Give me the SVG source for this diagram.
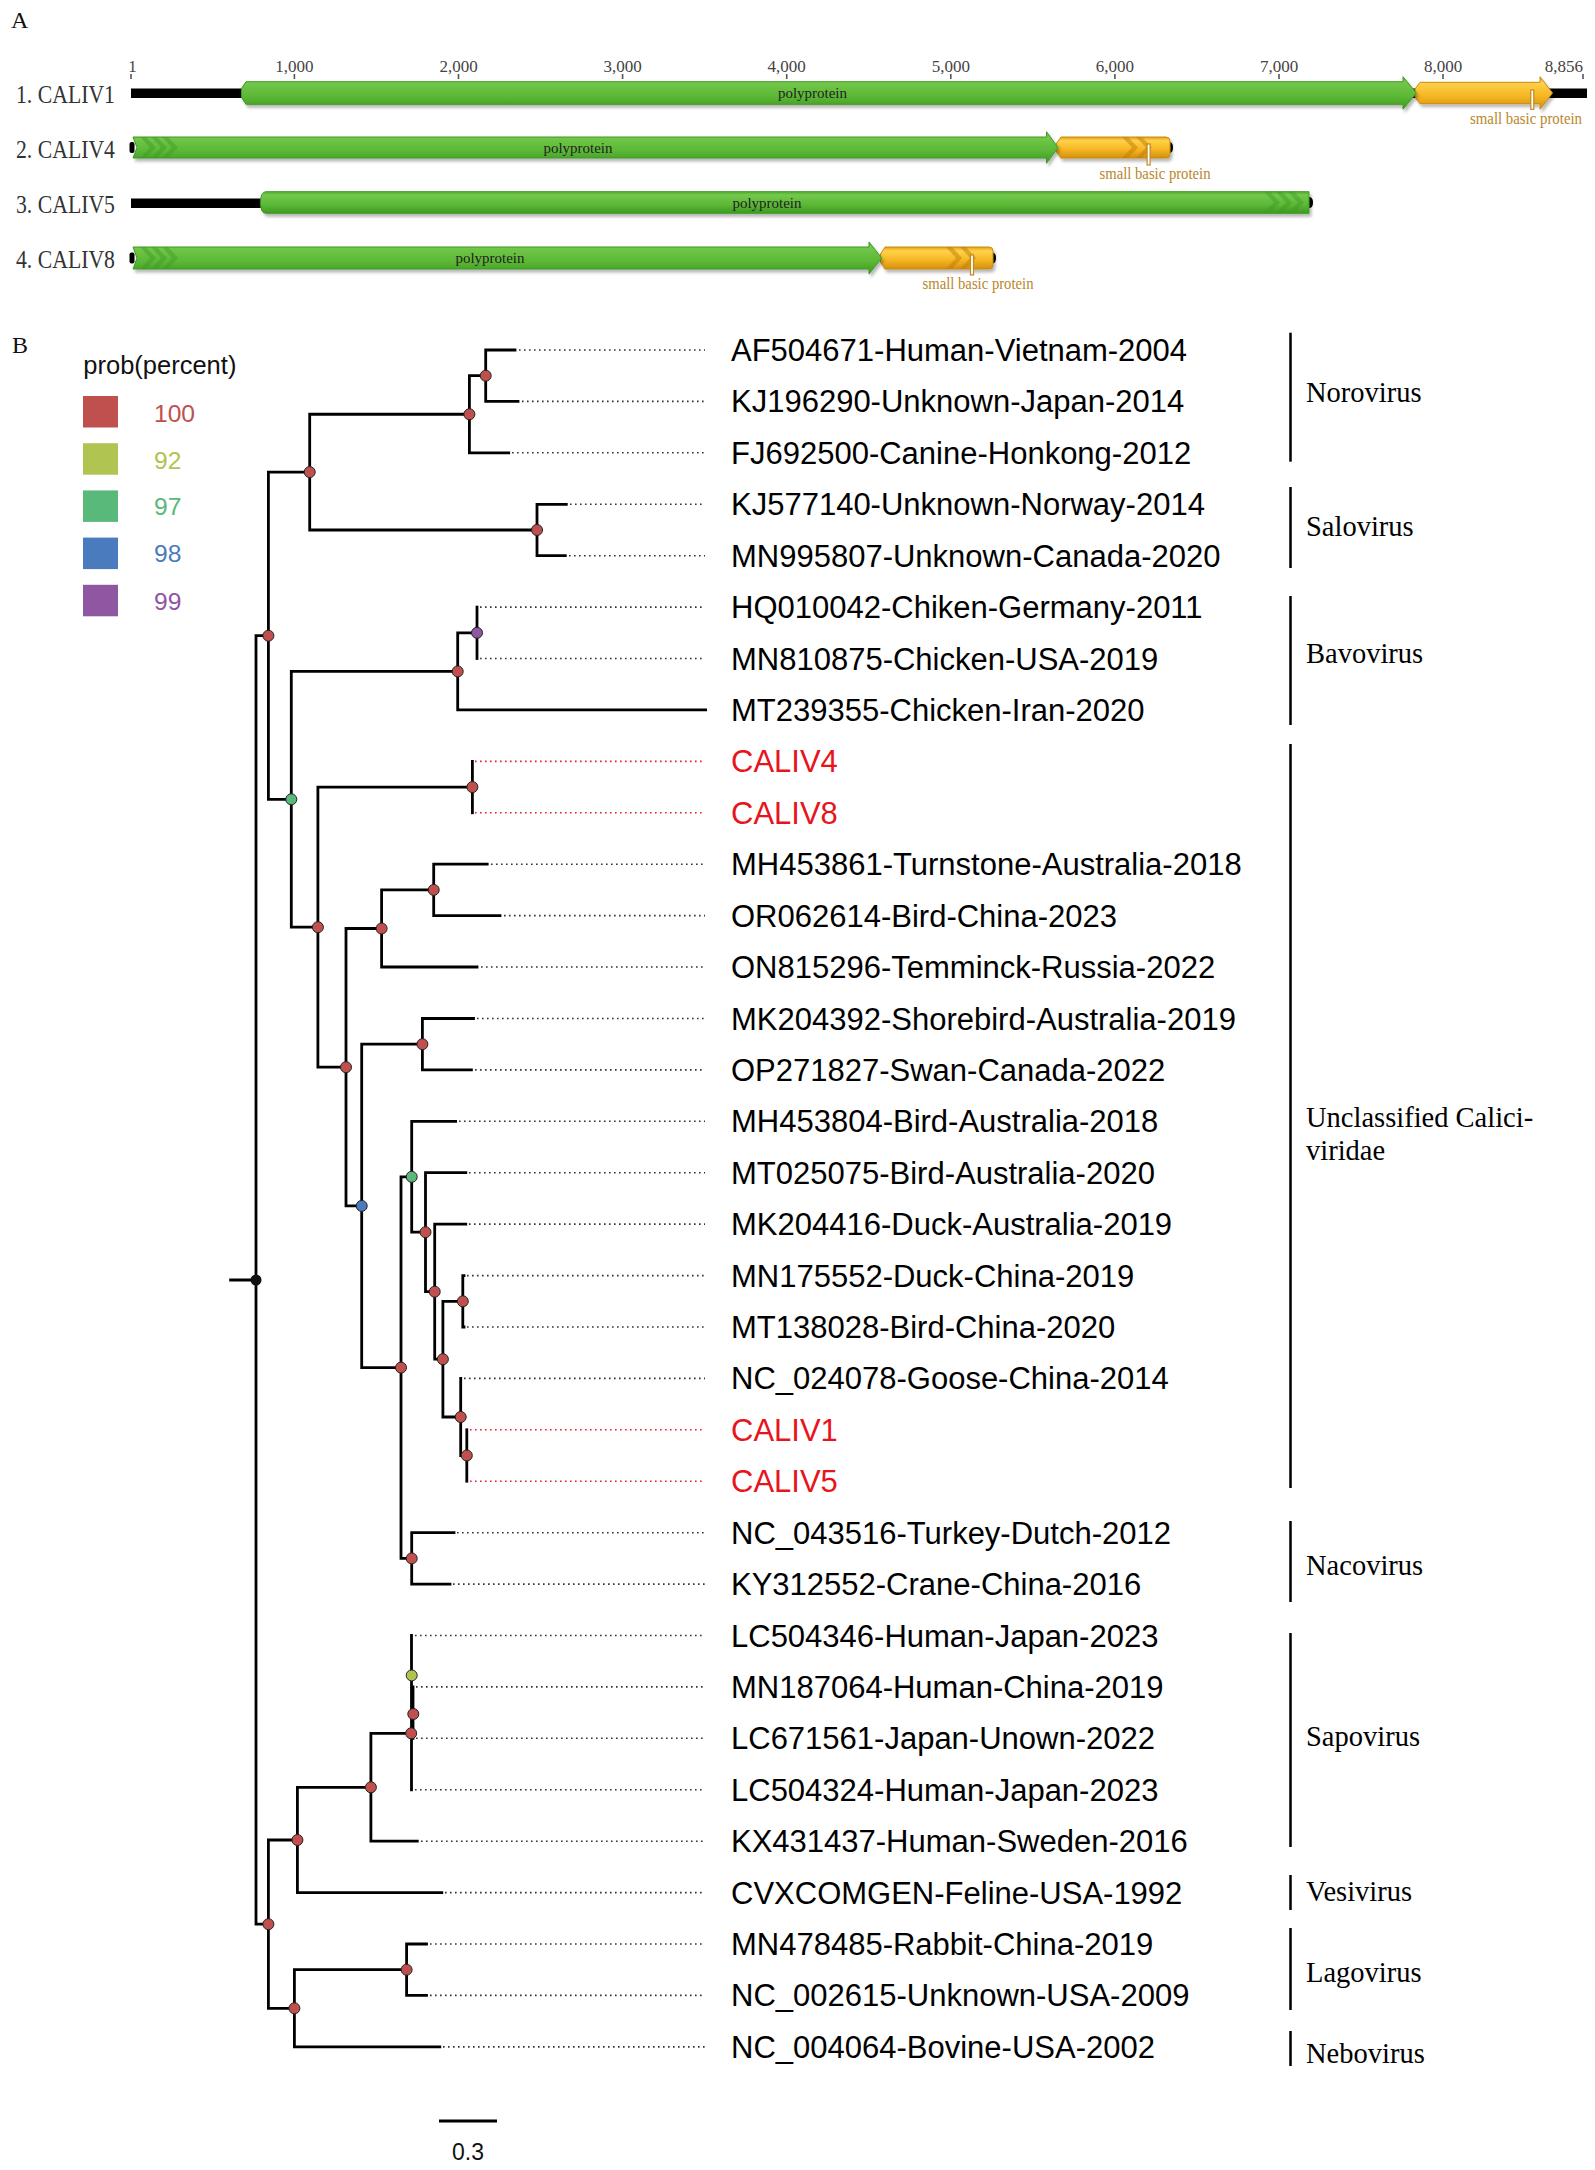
<svg xmlns="http://www.w3.org/2000/svg" width="1595" height="2170" viewBox="0 0 1595 2170">
<style>
.pl{font-family:"Liberation Serif","Times New Roman",serif;font-size:24px;fill:#111}
.tl{font-family:"Liberation Serif","Times New Roman",serif;font-size:17px;fill:#444;text-anchor:middle}
.tick{stroke:#555;stroke-width:1.6}
.rowlab{font-family:"Liberation Serif","Times New Roman",serif;font-size:25px;fill:#333}
.pp{font-family:"Liberation Serif","Times New Roman",serif;font-size:15px;fill:#222;text-anchor:middle}
.sbp{font-family:"Liberation Serif","Times New Roman",serif;font-size:16px;fill:#b8862b;text-anchor:middle}
.gr{fill:url(#gG);stroke:#3d9a22;stroke-width:1;filter:url(#sh)}
.or{fill:url(#gO);stroke:#c98a12;stroke-width:1;filter:url(#sh)}
.chg{fill:#3f9c25;opacity:0.45}
.cho{fill:#c47a08;opacity:0.5}
.mk{fill:#fff;stroke:#c08a20;stroke-width:1.2}
.seq{fill:#000}
.br{stroke:#000;stroke-width:2.8;fill:none;stroke-linecap:square}
.dt{stroke:#333;stroke-width:1.6;stroke-dasharray:1.6 3.4;fill:none}
.dtr{stroke:#e8202a;stroke-width:1.6;stroke-dasharray:1.6 3.4;fill:none}
.leaf{font-family:"Liberation Sans",Arial,sans-serif;font-size:31px;fill:#000}
.red{fill:#e8141c}
.grp{font-family:"Liberation Serif","Times New Roman",serif;font-size:28.5px;fill:#000}
.bk{stroke:#000;stroke-width:2.5}
.nd{stroke:#222;stroke-width:1}
.c100{fill:#c0504d}.c92{fill:#b0c452}.c97{fill:#58b97a}.c98{fill:#4a7bbe}.c99{fill:#8f56a1}
.lg{font-family:"Liberation Sans",Arial,sans-serif;font-size:24.6px}
</style>
<defs>
<linearGradient id="gG" x1="0" y1="0" x2="0" y2="1">
<stop offset="0" stop-color="#4fb030"/><stop offset="0.15" stop-color="#74c84c"/><stop offset="0.6" stop-color="#5cb836"/><stop offset="1" stop-color="#3d9a22"/>
</linearGradient>
<linearGradient id="gO" x1="0" y1="0" x2="0" y2="1">
<stop offset="0" stop-color="#e2a212"/><stop offset="0.18" stop-color="#ffd24a"/><stop offset="0.6" stop-color="#f5b623"/><stop offset="1" stop-color="#d48f0c"/>
</linearGradient>
<filter id="sh" x="-5%" y="-30%" width="110%" height="180%">
<feDropShadow dx="2" dy="3" stdDeviation="1.5" flood-color="#000" flood-opacity="0.28"/>
</filter>
</defs>
<rect width="1595" height="2170" fill="#fff"/>

<!-- Panel A -->
<g id="panelA">
<text class="pl" x="11" y="28">A</text>
<g id="ruler">
<path class="tick" d="M131,74V79M294.4,74V79M458.5,74V79M622.6,74V79M786.7,74V79M950.8,74V79M1114.9,74V79M1279,74V79M1443,74V79M1583,74V79"/>
<text class="tl" x="132.5" y="71.5">1</text>
<text class="tl" x="294.4" y="71.5">1,000</text>
<text class="tl" x="458.5" y="71.5">2,000</text>
<text class="tl" x="622.6" y="71.5">3,000</text>
<text class="tl" x="786.7" y="71.5">4,000</text>
<text class="tl" x="950.8" y="71.5">5,000</text>
<text class="tl" x="1114.9" y="71.5">6,000</text>
<text class="tl" x="1279" y="71.5">7,000</text>
<text class="tl" x="1443" y="71.5">8,000</text>
<text class="tl" x="1583" y="71.5" style="text-anchor:end">8,856</text>
</g>
<g id="row-caliv1">
<text class="rowlab" x="16" y="102.7" textLength="99" lengthAdjust="spacingAndGlyphs">1. CALIV1</text>
<rect class="seq" x="131" y="88.5" width="1456" height="9.5"/>
<path class="or" d="M1420,82.3H1540V76.7L1552.5,93L1540,109.3V103.7H1420L1415,97V89Z"/>
<path class="gr" d="M246,81.7H1403V76.7L1416.4,93L1403,109.3V104.3H246L241.5,97.5V88.5Z"/>
<rect class="mk" x="1530.8" y="90" width="3" height="19.3"/>
<text class="pp" x="812.5" y="98" textLength="69" lengthAdjust="spacingAndGlyphs">polyprotein</text>
<text class="sbp" x="1526" y="124" textLength="112" lengthAdjust="spacingAndGlyphs">small basic protein</text>
</g>
<g id="row-caliv4">
<text class="rowlab" x="16" y="157.5" textLength="99" lengthAdjust="spacingAndGlyphs">2. CALIV4</text>
<rect class="seq" x="129.5" y="142" width="5" height="11" rx="2"/>
<path class="seq" d="M1164,142H1169Q1173,142 1173,147.5Q1173,153 1169,153H1164Z"/>
<path class="or" d="M1061,137H1166Q1170,137 1170,141V154Q1170,158 1166,158H1061L1056,151V144Z"/>
<path class="gr" d="M133,137H1046.5V131.7L1058,147.5L1046.5,163.3V158H133L137,147.5Z"/>
<path class="chg" d="M140,137h6l10,10.5l-10,10.5h-6l10,-10.5zM151,137h6l10,10.5l-10,10.5h-6l10,-10.5zM162,137h6l10,10.5l-10,10.5h-6l10,-10.5z"/>
<path class="cho" d="M1122,137h6l10,10.5l-10,10.5h-6l10,-10.5zM1136,137h6l10,10.5l-10,10.5h-6l10,-10.5z"/>
<rect class="mk" x="1147.1" y="144" width="3" height="21"/>
<text class="pp" x="578" y="152.5" textLength="69" lengthAdjust="spacingAndGlyphs">polyprotein</text>
<text class="sbp" x="1155" y="179" textLength="111" lengthAdjust="spacingAndGlyphs">small basic protein</text>
</g>
<g id="row-caliv5">
<text class="rowlab" x="16" y="212.5" textLength="99" lengthAdjust="spacingAndGlyphs">3. CALIV5</text>
<rect class="seq" x="131" y="198.5" width="132" height="9.5"/>
<path class="seq" d="M1304,197H1309Q1313,197 1313,202.5Q1313,208 1309,208H1304Z"/>
<path class="gr" d="M266,191.7H1309V213.3H266Q260.5,213.3 260.5,202.5Q260.5,191.7 266,191.7Z"/>
<path class="chg" d="M1264,191.7h6l10,10.8l-10,10.8h-6l10,-10.8zM1276,191.7h6l10,10.8l-10,10.8h-6l10,-10.8zM1288,191.7h6l10,10.8l-10,10.8h-6l10,-10.8z"/>
<text class="pp" x="767" y="207.5" textLength="69" lengthAdjust="spacingAndGlyphs">polyprotein</text>
</g>
<g id="row-caliv8">
<text class="rowlab" x="16" y="267.5" textLength="99" lengthAdjust="spacingAndGlyphs">4. CALIV8</text>
<rect class="seq" x="129.5" y="252.5" width="5" height="11" rx="2"/>
<path class="seq" d="M988,252.5H992Q996,252.5 996,258Q996,263.5 992,263.5H988Z"/>
<path class="or" d="M885,247H989Q993,247 993,251V265Q993,269 989,269H885L880.5,262V254Z"/>
<path class="gr" d="M133,247H869V242L881.7,258L869,274V269H133L137,258Z"/>
<path class="chg" d="M140,247h6l10,11l-10,11h-6l10,-11zM151,247h6l10,11l-10,11h-6l10,-11zM162,247h6l10,11l-10,11h-6l10,-11z"/>
<path class="cho" d="M946,247h6l10,11l-10,11h-6l10,-11zM960,247h6l10,11l-10,11h-6l10,-11z"/>
<rect class="mk" x="970.5" y="255" width="3" height="20"/>
<text class="pp" x="490" y="263" textLength="69" lengthAdjust="spacingAndGlyphs">polyprotein</text>
<text class="sbp" x="978" y="289" textLength="111" lengthAdjust="spacingAndGlyphs">small basic protein</text>
</g>
</g>

<!-- Panel B -->
<text class="pl" x="12" y="353">B</text>
<g id="legend">
<text x="83.3" y="373.5" style="font-family:'Liberation Sans',Arial,sans-serif;font-size:25.5px;fill:#111">prob(percent)</text>
<rect class="c100" x="83" y="396" width="35" height="31.5"/>
<rect class="c92" x="83" y="443.2" width="35" height="31.5"/>
<rect class="c97" x="83" y="490.4" width="35" height="31.5"/>
<rect class="c98" x="83" y="537.6" width="35" height="31.5"/>
<rect class="c99" x="83" y="584.8" width="35" height="31.5"/>
<text class="lg c100" x="154" y="421.7">100</text>
<text class="lg c92" x="154" y="468.6">92</text>
<text class="lg c97" x="154" y="515.4">97</text>
<text class="lg c98" x="154" y="562.3">98</text>
<text class="lg c99" x="154" y="609.5">99</text>
</g>

<g id="connectors">
<path class="br" d="M256,635.7V1924.2M256,635.7H268.4M256,1924.2H268.4M230.6,1280H256"/>
<path class="br" d="M268.4,472.1V799.3M268.4,472.1H309.7M268.4,799.3H291.3"/>
<path class="br" d="M309.7,414.25V530M309.7,414.25H469.4M309.7,530H537"/>
<path class="br" d="M469.4,375.7V452.8M469.4,375.7H485.7M469.4,452.8H508.7"/>
<path class="br" d="M485.7,350V401.4M485.7,350H515M485.7,401.4H518"/>
<path class="br" d="M537,504.3V555.7M537,504.3H566.3M537,555.7H565.3"/>
<path class="br" d="M291.3,671.4V927.2M291.3,671.4H457.7M291.3,927.2H317.9"/>
<path class="br" d="M457.7,632.8V709.9M457.7,632.8H477M457.7,709.9H705.6"/>
<path class="br" d="M477,607.1V658.5"/>
<path class="br" d="M317.9,787.1V1067.2M317.9,787.1H472.4M317.9,1067.2H346"/>
<path class="br" d="M472.4,761.4V812.8"/>
<path class="br" d="M346,928.5V1205.9M346,928.5H381.6M346,1205.9H361.7"/>
<path class="br" d="M381.6,889.9V967M381.6,889.9H433.7M381.6,967H477"/>
<path class="br" d="M433.7,864.2V915.6M433.7,864.2H487.2M433.7,915.6H500"/>
<path class="br" d="M361.7,1044.2V1367.6M361.7,1044.2H422.4M361.7,1367.6H401"/>
<path class="br" d="M422.4,1018.5V1069.9M422.4,1018.5H473.5M422.4,1069.9H471.4"/>
<path class="br" d="M401,1176.8V1558.4M401,1176.8H411.7M401,1558.4H411.7"/>
<path class="br" d="M411.7,1121.3V1232.2M411.7,1121.3H455.6M411.7,1232.2H425.5"/>
<path class="br" d="M425.5,1172.7V1291.7M425.5,1172.7H465.8M425.5,1291.7H434.7"/>
<path class="br" d="M434.7,1224.1V1359.2M434.7,1224.1H465.8M434.7,1359.2H442.9"/>
<path class="br" d="M442.9,1301.3V1417M442.9,1301.3H462.8M442.9,1417H460.7"/>
<path class="br" d="M462.8,1275.6V1327M462.8,1275.6H464M462.8,1327H464"/>
<path class="br" d="M460.7,1378.4V1455.5M460.7,1455.5H466.8"/>
<path class="br" d="M466.8,1429.8V1481.2"/>
<path class="br" d="M411.7,1532.7V1584.1M411.7,1532.7H454M411.7,1584.1H450"/>
<path class="br" d="M268.4,1840V2008.3M268.4,1840H297.4M268.4,2008.3H294.4"/>
<path class="br" d="M297.4,1787.3V1892.6M297.4,1787.3H370.9M297.4,1892.6H441.8"/>
<path class="br" d="M370.9,1733.3V1841.2M370.9,1733.3H411.2M370.9,1841.2H417.3"/>
<path class="br" d="M411.5,1635.5V1789.8M413,1686.9V1738.3"/>
<path class="br" d="M294.4,1969.7V2046.9M294.4,1969.7H406.6M294.4,2046.9H439.8"/>
<path class="br" d="M406.6,1944V1995.4M406.6,1944H426.5M406.6,1995.4H426.5"/>
<path class="dt" d="M519,350H705M522,401.4H705M512,452.8H705M570,504.3H705M569,555.7H705M480,607.1H705M480,658.5H705M491,864.2H705M504,915.6H705M481,967H705M477,1018.5H705M475,1069.9H705M459,1121.3H705M469,1172.7H705M469,1224.1H705M467,1275.6H705M467,1327H705M464,1378.4H705M457,1532.7H705M453,1584.1H705M415,1635.5H705M416,1686.9H705M416,1738.3H705M415,1789.8H705M421,1841.2H705M445,1892.6H705M430,1944H705M430,1995.4H705M443,2046.9H705"/>
<path class="dtr" d="M475,761.4H705M475,812.8H705M470,1429.8H705M470,1481.2H705"/>
</g>

<g id="node-dots">
<g id="n-root"><circle cx="256" cy="1280" r="5.5" fill="#111"/></g>
<g id="n-N3"><circle class="nd c100" cx="268.4" cy="635.7" r="5.5"/></g>
<g id="n-N2"><circle class="nd c100" cx="309.7" cy="472.1" r="5.5"/></g>
<g id="n-noro"><circle class="nd c100" cx="469.4" cy="414.25" r="5.5"/></g>
<g id="n-A1"><circle class="nd c100" cx="485.7" cy="375.7" r="5.5"/></g>
<g id="n-salo"><circle class="nd c100" cx="537" cy="530" r="5.5"/></g>
<g id="n-N4"><circle class="nd c97" cx="291.3" cy="799.3" r="5.5"/></g>
<g id="n-bavo"><circle class="nd c100" cx="457.7" cy="671.4" r="5.5"/></g>
<g id="n-bsub"><circle class="nd c99" cx="477" cy="632.8" r="5.5"/></g>
<g id="n-N5"><circle class="nd c100" cx="317.9" cy="927.2" r="5.5"/></g>
<g id="n-C48"><circle class="nd c100" cx="472.4" cy="787.1" r="5.5"/></g>
<g id="n-N6"><circle class="nd c100" cx="346" cy="1067.2" r="5.5"/></g>
<g id="n-N7"><circle class="nd c100" cx="381.6" cy="928.5" r="5.5"/></g>
<g id="n-N8"><circle class="nd c100" cx="433.7" cy="889.9" r="5.5"/></g>
<g id="n-N10"><circle class="nd c98" cx="361.7" cy="1205.9" r="5.5"/></g>
<g id="n-N9"><circle class="nd c100" cx="422.4" cy="1044.2" r="5.5"/></g>
<g id="n-N12"><circle class="nd c100" cx="401" cy="1367.6" r="5.5"/></g>
<g id="n-N11"><circle class="nd c97" cx="411.7" cy="1176.8" r="5.5"/></g>
<g id="n-N13"><circle class="nd c100" cx="425.5" cy="1232.2" r="5.5"/></g>
<g id="n-N14"><circle class="nd c100" cx="434.7" cy="1291.7" r="5.5"/></g>
<g id="n-N15"><circle class="nd c100" cx="442.9" cy="1359.2" r="5.5"/></g>
<g id="n-N16"><circle class="nd c100" cx="462.8" cy="1301.3" r="5.5"/></g>
<g id="n-N17"><circle class="nd c100" cx="460.7" cy="1417" r="5.5"/></g>
<g id="n-N18"><circle class="nd c100" cx="466.8" cy="1455.5" r="5.5"/></g>
<g id="n-naco"><circle class="nd c100" cx="411.7" cy="1558.4" r="5.5"/></g>
<g id="n-R2"><circle class="nd c100" cx="268.4" cy="1924.2" r="5.5"/></g>
<g id="n-R3"><circle class="nd c100" cx="297.4" cy="1840" r="5.5"/></g>
<g id="n-S1"><circle class="nd c100" cx="370.9" cy="1787.3" r="5.5"/></g>
<g id="n-S2"><circle class="nd c100" cx="411.2" cy="1733.3" r="5.5"/></g>
<g id="n-S3"><circle class="nd c100" cx="413.3" cy="1714" r="5.5"/></g>
<g id="n-S4"><circle class="nd c92" cx="411.7" cy="1675.4" r="5.5"/></g>
<g id="n-R4"><circle class="nd c100" cx="294.4" cy="2008.3" r="5.5"/></g>
<g id="n-lago"><circle class="nd c100" cx="406.6" cy="1969.7" r="5.5"/></g>
</g>

<g id="leaves">
<g id="leaf-1"><text class="leaf" x="731" y="361">AF504671-Human-Vietnam-2004</text></g>
<g id="leaf-2"><text class="leaf" x="731" y="412.4">KJ196290-Unknown-Japan-2014</text></g>
<g id="leaf-3"><text class="leaf" x="731" y="463.8">FJ692500-Canine-Honkong-2012</text></g>
<g id="leaf-4"><text class="leaf" x="731" y="515.3">KJ577140-Unknown-Norway-2014</text></g>
<g id="leaf-5"><text class="leaf" x="731" y="566.7">MN995807-Unknown-Canada-2020</text></g>
<g id="leaf-6"><text class="leaf" x="731" y="618.1">HQ010042-Chiken-Germany-2011</text></g>
<g id="leaf-7"><text class="leaf" x="731" y="669.5">MN810875-Chicken-USA-2019</text></g>
<g id="leaf-8"><text class="leaf" x="731" y="720.9">MT239355-Chicken-Iran-2020</text></g>
<g id="leaf-9"><text class="leaf red" x="731" y="772.4">CALIV4</text></g>
<g id="leaf-10"><text class="leaf red" x="731" y="823.8">CALIV8</text></g>
<g id="leaf-11"><text class="leaf" x="731" y="875.2">MH453861-Turnstone-Australia-2018</text></g>
<g id="leaf-12"><text class="leaf" x="731" y="926.6">OR062614-Bird-China-2023</text></g>
<g id="leaf-13"><text class="leaf" x="731" y="978">ON815296-Temminck-Russia-2022</text></g>
<g id="leaf-14"><text class="leaf" x="731" y="1029.5">MK204392-Shorebird-Australia-2019</text></g>
<g id="leaf-15"><text class="leaf" x="731" y="1080.9">OP271827-Swan-Canada-2022</text></g>
<g id="leaf-16"><text class="leaf" x="731" y="1132.3">MH453804-Bird-Australia-2018</text></g>
<g id="leaf-17"><text class="leaf" x="731" y="1183.7">MT025075-Bird-Australia-2020</text></g>
<g id="leaf-18"><text class="leaf" x="731" y="1235.1">MK204416-Duck-Australia-2019</text></g>
<g id="leaf-19"><text class="leaf" x="731" y="1286.6">MN175552-Duck-China-2019</text></g>
<g id="leaf-20"><text class="leaf" x="731" y="1338">MT138028-Bird-China-2020</text></g>
<g id="leaf-21"><text class="leaf" x="731" y="1389.4">NC_024078-Goose-China-2014</text></g>
<g id="leaf-22"><text class="leaf red" x="731" y="1440.8">CALIV1</text></g>
<g id="leaf-23"><text class="leaf red" x="731" y="1492.2">CALIV5</text></g>
<g id="leaf-24"><text class="leaf" x="731" y="1543.7">NC_043516-Turkey-Dutch-2012</text></g>
<g id="leaf-25"><text class="leaf" x="731" y="1595.1">KY312552-Crane-China-2016</text></g>
<g id="leaf-26"><text class="leaf" x="731" y="1646.5">LC504346-Human-Japan-2023</text></g>
<g id="leaf-27"><text class="leaf" x="731" y="1697.9">MN187064-Human-China-2019</text></g>
<g id="leaf-28"><text class="leaf" x="731" y="1749.3">LC671561-Japan-Unown-2022</text></g>
<g id="leaf-29"><text class="leaf" x="731" y="1800.8">LC504324-Human-Japan-2023</text></g>
<g id="leaf-30"><text class="leaf" x="731" y="1852.2">KX431437-Human-Sweden-2016</text></g>
<g id="leaf-31"><text class="leaf" x="731" y="1903.6">CVXCOMGEN-Feline-USA-1992</text></g>
<g id="leaf-32"><text class="leaf" x="731" y="1955">MN478485-Rabbit-China-2019</text></g>
<g id="leaf-33"><text class="leaf" x="731" y="2006.4">NC_002615-Unknown-USA-2009</text></g>
<g id="leaf-34"><text class="leaf" x="731" y="2057.9">NC_004064-Bovine-USA-2002</text></g>
</g>

<g id="groups">
<g id="grp-noro"><line class="bk" x1="1290.5" y1="332.7" x2="1290.5" y2="461.7"/><text class="grp" x="1306" y="402">Norovirus</text></g>
<g id="grp-salo"><line class="bk" x1="1290.5" y1="487" x2="1290.5" y2="568"/><text class="grp" x="1306" y="536">Salovirus</text></g>
<g id="grp-bavo"><line class="bk" x1="1290.5" y1="596" x2="1290.5" y2="725"/><text class="grp" x="1306" y="663">Bavovirus</text></g>
<g id="grp-uncl"><line class="bk" x1="1290.5" y1="744" x2="1290.5" y2="1488"/><text class="grp" x="1306" y="1127">Unclassified Calici-</text><text class="grp" x="1306" y="1160">viridae</text></g>
<g id="grp-naco"><line class="bk" x1="1290.5" y1="1521" x2="1290.5" y2="1602"/><text class="grp" x="1306" y="1575">Nacovirus</text></g>
<g id="grp-sapo"><line class="bk" x1="1290.5" y1="1633" x2="1290.5" y2="1847"/><text class="grp" x="1306" y="1746">Sapovirus</text></g>
<g id="grp-vesi"><line class="bk" x1="1290.5" y1="1875" x2="1290.5" y2="1910"/><text class="grp" x="1306" y="1901">Vesivirus</text></g>
<g id="grp-lago"><line class="bk" x1="1290.5" y1="1928" x2="1290.5" y2="2010"/><text class="grp" x="1306" y="1982">Lagovirus</text></g>
<g id="grp-nebo"><line class="bk" x1="1290.5" y1="2031" x2="1290.5" y2="2066"/><text class="grp" x="1306" y="2063">Nebovirus</text></g>
</g>

<g id="scalebar">
<line x1="439" y1="2121" x2="497" y2="2121" stroke="#000" stroke-width="3"/>
<text x="468" y="2160" text-anchor="middle" style="font-family:'Liberation Sans',Arial,sans-serif;font-size:23px;fill:#111">0.3</text>
</g>
</svg>
